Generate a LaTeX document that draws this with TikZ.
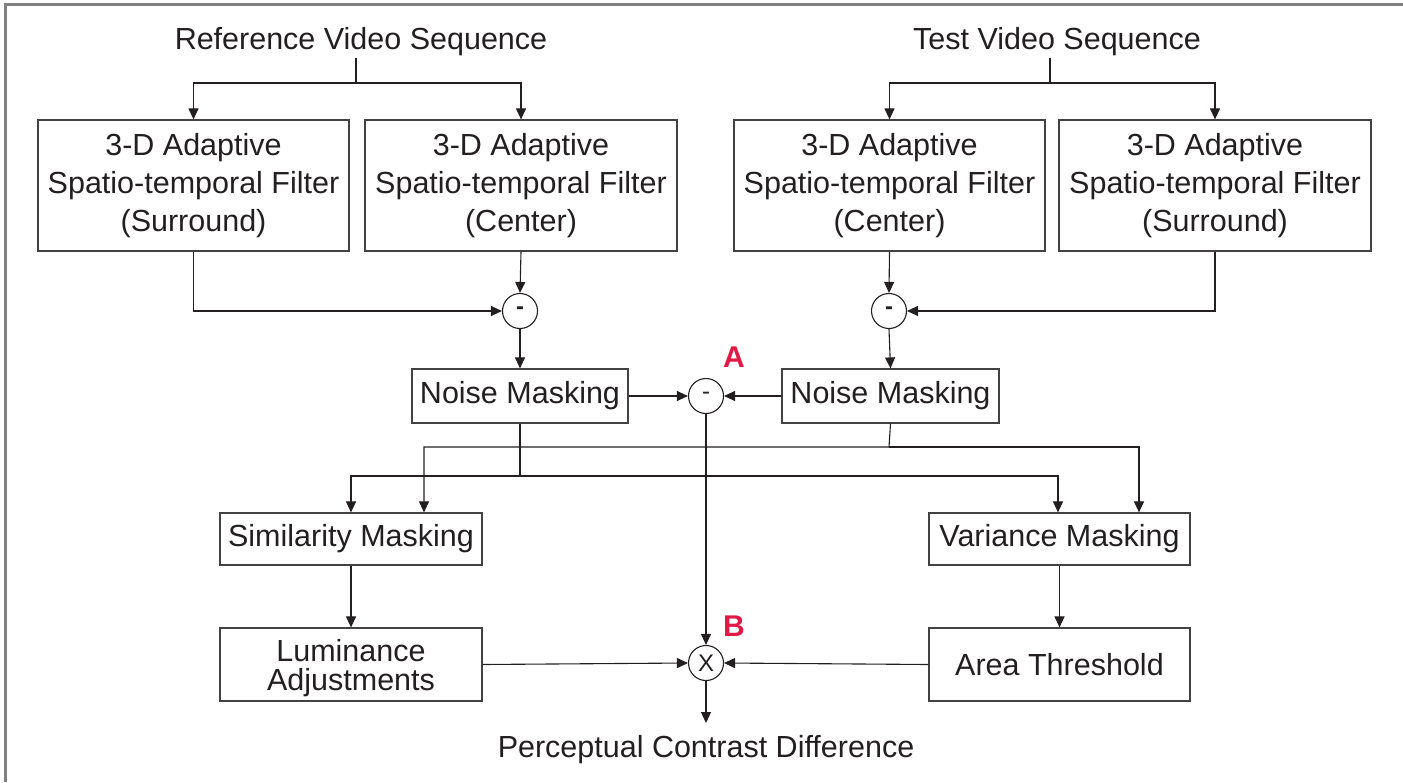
\documentclass[tikz,border=0pt]{standalone}
\usepackage{fontspec}
\setmainfont{Liberation Sans}
\usetikzlibrary{arrows.meta,calc}
\definecolor{ink}{RGB}{35,31,32}
\definecolor{frame}{RGB}{128,128,128}
\definecolor{mark}{RGB}{225,25,70}
\begin{document}
\begin{tikzpicture}[x=1pt,y=-1pt,
  every node/.style={text=ink},
  box/.style={draw=ink!85, line width=1.2pt, inner sep=0pt, align=center,
    font=\fontsize{30.5}{38}\selectfont},
  sumnode/.style={draw=ink, circle, line width=1.1pt, minimum size=35pt, inner sep=0pt,
    font=\fontsize{24}{24}\selectfont},
  title/.style={font=\fontsize{30.5}{34}\selectfont, inner sep=0pt},
  tag/.style={text=mark, font=\fontsize{30}{30}\selectfont\bfseries, inner sep=0pt},
  link/.style={draw=ink, line width=1.1pt},
  arr/.style={link, -{Triangle[length=11pt,width=10pt]}}]
\useasboundingbox (0,0) rectangle (1403,782);
% outer frame (left and top edges)
\draw[frame, line width=3pt] (5.5,782) -- (5.5,4) -- (1403,4);

% titles
\node[title] (reftitle) at (361,42) {Reference Video Sequence};
\node[title] (testtitle) at (1057,42) {Test Video Sequence};
\coordinate (rtop) at (356,58);
\coordinate (rj) at (356,83);
\coordinate (ttop) at (1050,58);
\coordinate (tj) at (1050,83);

% filter stage
\node[box, minimum width=311pt, minimum height=131pt] (refS) at (193.5,185.5)
  {3-D Adaptive\\Spatio-temporal Filter\\(Surround)};
\node[box, minimum width=312pt, minimum height=131pt] (refC) at (521,185.5)
  {3-D Adaptive\\Spatio-temporal Filter\\(Center)};
\node[box, minimum width=311pt, minimum height=131pt] (testC) at (889.5,185.5)
  {3-D Adaptive\\Spatio-temporal Filter\\(Center)};
\node[box, minimum width=312pt, minimum height=131pt] (testS) at (1215,185.5)
  {3-D Adaptive\\Spatio-temporal Filter\\(Surround)};

% differences
\node[sumnode] (c1) at (520,311) {\textbf{-}};
\node[sumnode] (c2) at (889,311) {\textbf{-}};
\node[sumnode] (cA) at (706,396) {-};
\node[sumnode] (cB) at (706,663) {X};
\node[tag] at (734,357) {A};
\node[tag] at (734,626) {B};

% masking stages
\node[box, minimum width=216pt, minimum height=54pt] (nmL) at (520,396) {Noise Masking};
\node[box, minimum width=217pt, minimum height=54pt] (nmR) at (890.5,396) {Noise Masking};
\node[box, minimum width=262pt, minimum height=52pt] (sim) at (351,539) {Similarity Masking};
\node[box, minimum width=261pt, minimum height=52pt] (var) at (1059.5,539) {Variance Masking};
\node[box, minimum width=262pt, minimum height=73pt] (lum) at (351,664.5) {};
\node[align=center, inner sep=0pt, font=\fontsize{30.5}{29}\selectfont]
  (lumtext) at (351,668) {Luminance\\Adjustments};
\node[box, minimum width=261pt, minimum height=73pt] (area) at (1059.5,664.5) {Area Threshold};
\node[title, anchor=north] (out) at (706,735) {Perceptual Contrast Difference};

% input fan-out
\draw[link] (rtop) -- (rj);
\draw[arr] (rj) -| (refS.north);
\draw[arr] (rj) -| (refC.north);
\draw[link] (ttop) -- (tj);
\draw[arr] (tj) -| (testC.north);
\draw[arr] (tj) -| (testS.north);

% center minus surround
\draw[arr] (refS.south) |- (c1.west);
\draw[arr] (refC.south) -- (c1.north);
\draw[arr] (testC.south) -- (c2.north);
\draw[arr] (testS.south) |- (c2.east);
\draw[arr] (c1.south) -- (nmL.north);
\draw[arr] (c2.south) -- (nmR.north);

% noise masking outputs
\draw[arr] (nmL.east) -- (cA.west);
\draw[arr] (nmR.west) -- (cA.east);
\coordinate (jl) at (520,476);
\coordinate (jr) at (889,447);
\draw[arr] (nmL.south) -- (jl) -| (sim.north);
\draw[arr] (jl) -| ([xshift=-1.5pt]var.north);
\draw[arr] (nmR.south) -- (jr) -| ([xshift=73pt]sim.north);
\draw[arr] (jr) -| ([xshift=79.5pt]var.north);

% lower chain
\draw[arr] (sim.south) -- (lum.north);
\draw[arr] (var.south) -- (area.north);
\draw[arr] (cA.south) -- (cB.north);
\draw[arr] (lum.east) -- (cB.west);
\draw[arr] (area.west) -- (cB.east);
\coordinate (outtip) at (706,723);
\draw[arr] (cB.south) -- (outtip);
\end{tikzpicture}
\end{document}
